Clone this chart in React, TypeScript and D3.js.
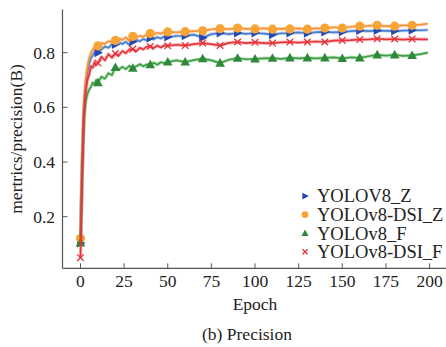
import React from "react";
import * as d3 from "d3";

const epochs = [0,1,2,3,4,5,6,7,8,9,10,12,14,16,18,20,22,24,26,28,30,32,34,36,38,40,42,44,46,48,50,55,60,65,70,75,80,85,90,95,100,105,110,115,120,125,130,135,140,145,150,155,160,165,170,175,180,185,190,195,199];

const yolov8Z = [0.104,0.40,0.60,0.68,0.73,0.76,0.78,0.79,0.80,0.795,0.80,0.812,0.822,0.818,0.83,0.83,0.838,0.832,0.84,0.828,0.84,0.847,0.842,0.85,0.845,0.854,0.849,0.857,0.852,0.859,0.857,0.861,0.862,0.866,0.855,0.868,0.872,0.868,0.872,0.869,0.872,0.87,0.866,0.871,0.872,0.874,0.871,0.875,0.876,0.874,0.876,0.879,0.881,0.879,0.881,0.88,0.879,0.881,0.882,0.882,0.883];

const yolov8DsiZ = [0.12,0.42,0.62,0.70,0.75,0.78,0.80,0.81,0.82,0.815,0.825,0.835,0.832,0.842,0.838,0.845,0.852,0.847,0.856,0.843,0.86,0.855,0.862,0.858,0.866,0.87,0.866,0.873,0.869,0.876,0.876,0.874,0.877,0.879,0.88,0.885,0.888,0.886,0.89,0.887,0.887,0.889,0.886,0.888,0.887,0.889,0.886,0.889,0.89,0.893,0.89,0.895,0.897,0.898,0.90,0.897,0.897,0.90,0.90,0.903,0.906];

const yolov8F = [0.104,0.35,0.55,0.62,0.65,0.665,0.675,0.69,0.685,0.70,0.69,0.712,0.705,0.725,0.718,0.746,0.738,0.748,0.74,0.752,0.743,0.75,0.758,0.75,0.757,0.756,0.763,0.756,0.765,0.762,0.766,0.772,0.766,0.773,0.778,0.772,0.762,0.774,0.78,0.776,0.777,0.779,0.78,0.777,0.781,0.779,0.781,0.779,0.781,0.783,0.779,0.783,0.781,0.787,0.792,0.789,0.792,0.788,0.79,0.795,0.80];

const yolov8DsiF = [0.05,0.36,0.58,0.66,0.70,0.72,0.75,0.745,0.765,0.755,0.762,0.785,0.772,0.795,0.782,0.797,0.79,0.806,0.798,0.812,0.813,0.806,0.818,0.812,0.822,0.823,0.817,0.826,0.819,0.827,0.825,0.829,0.826,0.831,0.835,0.831,0.826,0.836,0.839,0.835,0.838,0.835,0.835,0.838,0.839,0.837,0.839,0.841,0.839,0.844,0.845,0.846,0.848,0.849,0.851,0.849,0.85,0.848,0.85,0.849,0.849];

const seriesNames = ["YOLOV8_Z", "YOLOv8-DSI_Z", "YOLOv8_F", "YOLOv8-DSI_F"];
const xTicks = [0, 25, 50, 75, 100, 125, 150, 175, 200];
const yTicks = [0.2, 0.4, 0.6, 0.8];

const series = [
  { name: seriesNames[0], values: yolov8Z, line: "#4a7fcc", mark: "#2448b4", shape: "right" },
  { name: seriesNames[1], values: yolov8DsiZ, line: "#f7923a", mark: "#f7a436", shape: "circle" },
  { name: seriesNames[2], values: yolov8F, line: "#3fa046", mark: "#2e8a3a", shape: "up" },
  { name: seriesNames[3], values: yolov8DsiF, line: "#e5343c", mark: "#e8323a", shape: "x" },
];

const FONT = "'Liberation Serif', 'Times New Roman', serif";

function Marker({ shape, color, x, y, k = 1 }: { shape: string; color: string; x: number; y: number; k?: number }) {
  if (shape === "circle") return <circle cx={x} cy={y} r={4.6 * k} fill={color} />;
  if (shape === "right")
    return <path d={`M${x - 3.5 * k},${y - 4.5 * k}L${x + 5 * k},${y}L${x - 3.5 * k},${y + 4.5 * k}Z`} fill={color} />;
  if (shape === "up")
    return <path d={`M${x},${y - 5 * k}L${x + 4.8 * k},${y + 3.6 * k}L${x - 4.8 * k},${y + 3.6 * k}Z`} fill={color} />;
  const a = 3.3 * k;
  return (
    <path
      d={`M${x - a},${y - a}L${x + a},${y + a}M${x - a},${y + a}L${x + a},${y - a}`}
      stroke={color}
      strokeWidth={1.3}
      fill="none"
    />
  );
}

export default function App() {
  const W = 446, H = 347;
  const left = 62.5, right = 446.5, top = 9.5, bottom = 268.3;
  const x = d3.scaleLinear().domain([-10.3, 209.7]).range([left, right]);
  const y = d3.scaleLinear().domain([0.011, 0.958]).range([bottom, top]);
  const line = d3.line<number>().x((_, i) => x(epochs[i])).y((v) => y(v));

  return (
    <svg width={W} height={H} style={{ position: "absolute", left: 0, top: 0, background: "#fff" }} fontFamily={FONT}>
      <rect width={W} height={H} fill="#fff" />
      {series.map((s) => (
        <g key={s.name}>
          <path d={line(s.values) || ""} fill="none" stroke={s.line} strokeOpacity={0.3} strokeWidth={3.6} strokeLinejoin="round" />
          <path d={line(s.values) || ""} fill="none" stroke={s.line} strokeWidth={1.7} strokeLinejoin="round" />
          {epochs.map((e, i) =>
            e % 10 === 0 ? <Marker key={e} shape={s.shape} color={s.mark} x={x(e)} y={y(s.values[i])} /> : null
          )}
        </g>
      ))}
      <line x1={left} x2={left} y1={top} y2={bottom} stroke="#555" strokeWidth={1.2} />
      <line x1={left} x2={W} y1={bottom} y2={bottom} stroke="#555" strokeWidth={1.2} />
      {xTicks.map((t) => (
        <g key={t}>
          <line x1={x(t)} x2={x(t)} y1={bottom} y2={bottom - 5} stroke="#555" strokeWidth={1} />
          <text x={x(t)} y={287} fontSize={17.5} textAnchor="middle" fill="#222">{t}</text>
        </g>
      ))}
      {yTicks.map((t) => (
        <g key={t}>
          <line x1={left} x2={left + 5} y1={y(t)} y2={y(t)} stroke="#555" strokeWidth={1} />
          <text x={55} y={y(t)} dy="0.35em" fontSize={17.5} textAnchor="end" fill="#222">{t.toFixed(1)}</text>
        </g>
      ))}
      <text x={255} y={310} fontSize={17.5} textAnchor="middle" fill="#222">Epoch</text>
      <text transform={`translate(22,${(top + bottom) / 2}) rotate(-90)`} fontSize={17.5} textAnchor="middle" fill="#222">mertrics/precision(B)</text>
      <text x={247} y={340} fontSize={17.5} textAnchor="middle" fill="#222">(b) Precision</text>
      {series.map((s, i) => {
        const cy = 196 + i * 18.6;
        return (
          <g key={s.name}>
            <Marker shape={s.shape} color={s.mark} x={305} y={cy} k={0.75} />
            <text x={317} y={cy} dy="0.35em" fontSize={18.5} fill="#222">{s.name}</text>
          </g>
        );
      })}
    </svg>
  );
}
